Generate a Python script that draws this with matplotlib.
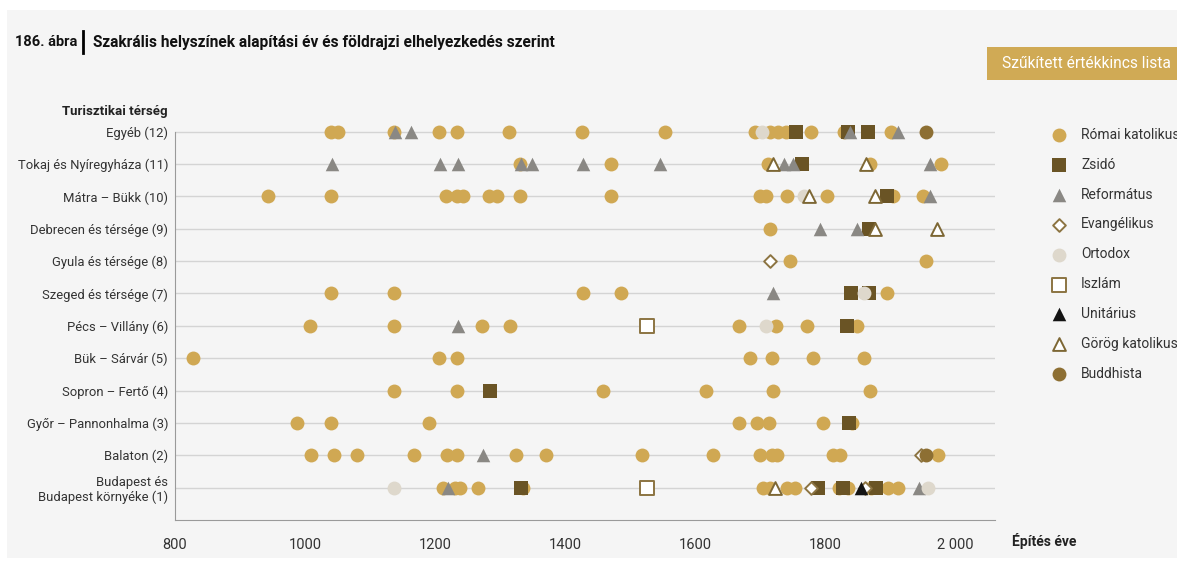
import matplotlib.pyplot as plt
from matplotlib.patches import Rectangle
from matplotlib.lines import Line2D

plt.rcParams['font.family'] = ['Roboto', 'DejaVu Sans']

# regions from bottom (1) to top (12)
regions = ['Budapest és\nBudapest környéke (1)', 'Balaton (2)', 'Győr – Pannonhalma (3)',
           'Sopron – Fertő (4)', 'Bük – Sárvár (5)', 'Pécs – Villány (6)',
           'Szeged és térsége (7)', 'Gyula és térsége (8)', 'Debrecen és térsége (9)',
           'Mátra – Bükk (10)', 'Tokaj és Nyíregyháza (11)', 'Egyéb (12)']

xticks = [800, 1000, 1200, 1400, 1600, 1800, 2000]
xtick_labels = ['800', '1000', '1200', '1400', '1600', '1800', '2 000']

# founding years per religion, keyed by row number (see regions)
romai = {
    12: [1040, 1051, 1137, 1206, 1234, 1314, 1426, 1554, 1692, 1715, 1728, 1740, 1778, 1829, 1902],
    11: [1331, 1470, 1713, 1869, 1978],
    10: [943, 1040, 1217, 1234, 1243, 1283, 1296, 1331, 1470, 1700, 1709, 1742, 1803, 1905, 1951],
    9: [1715],
    8: [1746, 1956],
    7: [1040, 1137, 1428, 1486, 1895],
    6: [1007, 1137, 1273, 1315, 1668, 1725, 1772, 1849],
    5: [827, 1206, 1234, 1685, 1718, 1782, 1860],
    4: [1137, 1234, 1459, 1617, 1720, 1869],
    3: [987, 1040, 1191, 1667, 1695, 1714, 1797, 1842],
    2: [1009, 1045, 1080, 1168, 1218, 1234, 1325, 1370, 1518, 1627, 1700, 1718, 1726, 1813, 1823, 1974],
    1: [1213, 1231, 1238, 1266, 1336, 1705, 1716, 1741, 1754, 1821, 1835, 1870, 1897, 1913],
}
zsido = {12: [1755, 1836, 1866], 11: [1764], 10: [1895], 9: [1867], 7: [1840, 1867],
         6: [1834], 4: [1284], 3: [1837], 1: [1332, 1789, 1827, 1879]}
reformatus = {12: [1138, 1163, 1838, 1913],
              11: [1042, 1207, 1235, 1332, 1349, 1428, 1546, 1737, 1751, 1962],
              10: [1962], 9: [1792, 1849], 7: [1720], 6: [1235], 2: [1274], 1: [1220, 1945]}
evangelikus = {8: [1715], 2: [1948], 1: [1778, 1862]}
ortodox = {12: [1703], 10: [1767], 7: [1860], 6: [1709], 1: [1137, 1959]}
iszlam = {6: [1526], 1: [1526]}
unitarius = {1: [1856]}
gorog = {11: [1720, 1863], 10: [1775, 1877], 9: [1877, 1973], 1: [1723]}
buddhista = {12: [1956], 2: [1956]}

series = [
    ('Római katolikus', romai, 'o', '#d0a853', '#d0a853', 100),
    ('Zsidó', zsido, 's', '#6a5425', '#6a5425', 105),
    ('Református', reformatus, '^', '#8a8884', '#8a8884', 95),
    ('Evangélikus', evangelikus, 'D', 'white', '#8c7442', 42),
    ('Ortodox', ortodox, 'o', '#ded8cc', '#ded8cc', 100),
    ('Iszlám', iszlam, 's', 'white', '#8c7442', 95),
    ('Unitárius', unitarius, '^', '#141414', '#141414', 95),
    ('Görög katolikus', gorog, '^', 'white', '#7d6734', 85),
    ('Buddhista', buddhista, 'o', '#8d6f33', '#8d6f33', 100),
]

W, H = 1177, 562
fig = plt.figure(figsize=(W / 100, H / 100), dpi=100, facecolor='white')
fig.add_artist(Rectangle((7 / W, 4 / H), 1 - 7 / W, 1 - 14 / H, transform=fig.transFigure,
                         facecolor='#f5f5f5', edgecolor='none', zorder=0))

ax = fig.add_axes([175 / W, 42 / H, 820 / W, 398 / H])
ax.set_facecolor('none')

handles = []
for i, (name, d, mk, fc, ec, size) in enumerate(series):
    xs, ys = [], []
    for row, years in d.items():
        xs += years
        ys += [row] * len(years)
    lw = 1.4 if fc == 'white' else 0
    h = ax.scatter(xs, ys, marker=mk, s=size, facecolor=fc, edgecolor=ec,
                   linewidths=lw, zorder=3 + i, label=name, clip_on=False)
    handles.append(h)

ax.set_xlim(800, 2061.5)
ax.set_ylim(0, 12.3)
ax.set_yticks(range(1, 13))
ax.set_yticklabels(regions, fontsize=9.4, color='#333333')
ax.set_xticks(xticks)
ax.set_xticklabels(xtick_labels, fontsize=10.5, color='#333333')
ax.tick_params(length=0)
ax.tick_params(axis='y', pad=5)
ax.tick_params(axis='x', pad=13)
ax.yaxis.grid(True, color='#d4d4d4', lw=1)
ax.set_axisbelow(True)
for s in ['top', 'right']:
    ax.spines[s].set_visible(False)
for s in ['left', 'bottom']:
    ax.spines[s].set_color('#9a9a9a')
ax.spines['left'].set_bounds(0, 12)

fig.text(168 / W, 1 - 112 / H, 'Turisztikai térség', ha='right', va='center',
         fontsize=9.5, fontweight='bold', color='#222222')
fig.text(1012 / W, 1 - 541 / H, 'Építés éve', ha='left', va='center',
         fontsize=10, fontweight='bold', color='#222222')

# title
fig.text(15 / W, 1 - 42 / H, '186. ábra', ha='left', va='center',
         fontsize=10.5, fontweight='bold', color='#111111')
fig.add_artist(Line2D([83 / W, 83 / W], [1 - 31 / H, 1 - 53 / H], transform=fig.transFigure,
                      color='black', lw=2))
fig.text(93 / W, 1 - 42 / H, 'Szakrális helyszínek alapítási év és földrajzi elhelyezkedés szerint',
         ha='left', va='center', fontsize=11.2, fontweight='bold', color='#111111')

# button
fig.add_artist(Rectangle((987 / W, 1 - 80 / H), 190 / W, 33 / H, transform=fig.transFigure,
                         facecolor='#d0aa55', edgecolor='none'))
fig.text(1086 / W, 1 - 64 / H, 'Szűkített értékkincs lista', ha='center', va='center',
         fontsize=11.2, color='white')

ax.legend(handles=handles, loc='upper left', bbox_to_anchor=(1045 / W, 1 - 128 / H),
          bbox_transform=fig.transFigure, frameon=False, fontsize=10, labelcolor='#333333',
          labelspacing=1.14, handletextpad=0.6, borderaxespad=0, borderpad=0)

fig.savefig('out.png', dpi=100, facecolor='white')
